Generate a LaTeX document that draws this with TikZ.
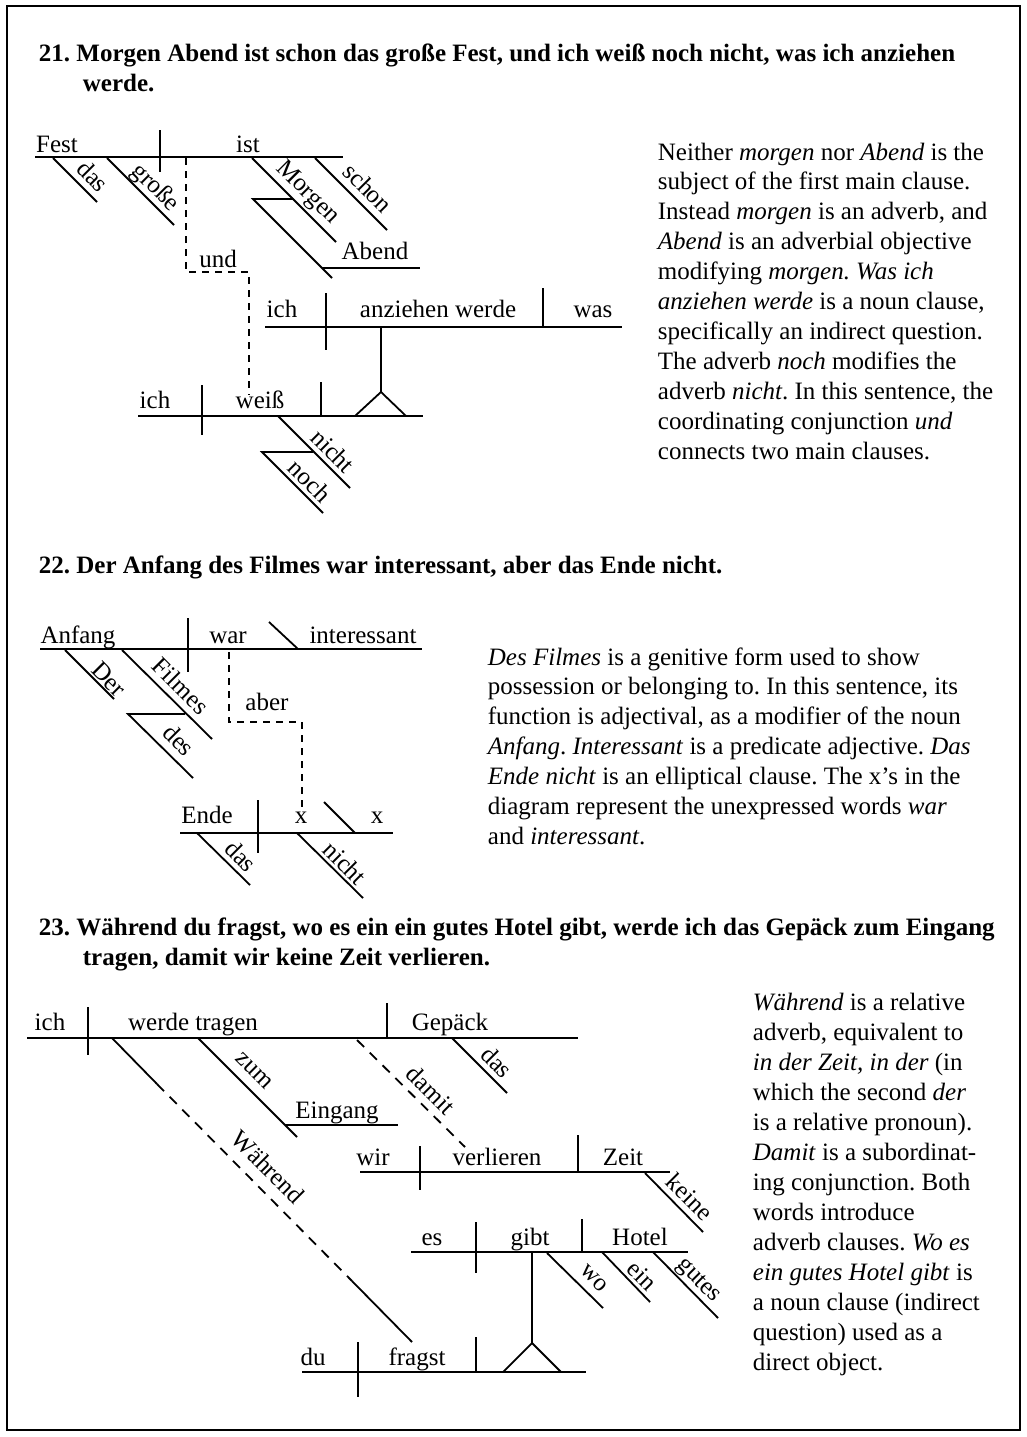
\documentclass[tikz,border=0pt]{standalone}
\usepackage{fontspec}
\setmainfont{Liberation Serif}
\begin{document}
\frenchspacing
\begin{tikzpicture}[x=1pt,y=-1pt,line width=1.8pt,
  every node/.style={inner sep=0pt,font=\fontsize{25}{30}\selectfont\frenchspacing},
  lab/.style={anchor=base},
  sl/.style={xshift=1pt,yshift=1pt,rotate=-45,anchor=center},
  dsh/.style={dash pattern=on 7pt off 6pt},
  dshb/.style={dash pattern=on 10pt off 8pt},
  head/.style={anchor=base west,font=\fontsize{25}{30}\selectfont\bfseries\frenchspacing},
  body/.style={anchor=base west}]
\useasboundingbox (0,0) rectangle (1027,1437);
\draw[line width=2pt] (7,6) rectangle (1020,1430);
% headings
\node[head] (h21a) at (38,62) {21. Morgen Abend ist schon das große Fest, und ich weiß noch nicht, was ich anziehen};
\node[head] (h21b) at (82,92) {werde.};
\node[head] (h22) at (38,573) {22. Der Anfang des Filmes war interessant, aber das Ende nicht.};
\node[head] (h23a) at (38,935) {23. Während du fragst, wo es ein ein gutes Hotel gibt, werde ich das Gepäck zum Eingang};
\node[head] (h23b) at (82,965) {tragen, damit wir keine Zeit verlieren.};
% ===== Diagram 21 =====
\draw (35,157) -- (343,157);
\draw (160,130) -- (160,172);
\node[lab] (fest) at (57,152) {Fest};
\node[lab] (ist) at (248,152) {ist};
\draw (53,158) -- (97,202);
\node[sl] (das1) at (92,177) {das};
\draw (107,158) -- (174,225);
\node[sl] (grosse) at (154,189) {große};
\draw (252,158) -- (336,242);
\node[sl] (morgen) at (306,194) {Morgen};
\draw (293,199) -- (253,199) -- (332,278);
\draw (322,268) -- (420,268);
\node[lab] (abend) at (375,259) {Abend};
\draw (315,158) -- (387,230);
\node[sl] (schon) at (367,189) {schon};
\draw[dsh] (186,158) -- (186,272) -- (249,272) -- (249,395);
\node[lab] (und) at (218,267) {und};
\draw (265,327) -- (622,327);
\draw (326,293) -- (326,350);
\draw (543,288) -- (543,327);
\node[lab] (ich1) at (282,317) {ich};
\node[lab] (anz) at (438,317) {anziehen werde};
\node[lab] (was) at (593,317) {was};
\draw (381,327) -- (381,392);
\draw (355,416) -- (381,392) -- (406,416);
\draw (138,416) -- (423,416);
\draw (202,385) -- (202,435);
\draw (321,382) -- (321,416);
\node[lab] (ich2) at (155,408) {ich};
\node[lab] (weiss) at (260,408) {weiß};
\draw (278,416) -- (350,488);
\node[sl] (nicht1) at (332,452) {nicht};
\draw (313,452) -- (262,452) -- (323,513);
\node[sl] (noch) at (309,482) {noch};
% ===== Diagram 22 =====
\draw (40,649) -- (422,649);
\draw (188,618) -- (188,672);
\draw (269,622) -- (298,649);
\node[lab] (anfang) at (78,643) {Anfang};
\node[lab] (war) at (228,643) {war};
\node[lab] (inter) at (363,643) {interessant};
\draw (65,650) -- (114,699);
\node[sl] (der) at (108,680) {Der};
\draw (122,650) -- (212,739);
\node[sl] (filmes) at (180,687) {Filmes};
\draw (185,714) -- (128,714) -- (193,778);
\node[sl] (des) at (178,741) {des};
\draw[dsh] (229,652) -- (229,722) -- (302,722) -- (302,807);
\node[lab] (aber) at (267,710) {aber};
\draw (180,833) -- (393,833);
\draw (258,800) -- (258,853);
\draw (324,802) -- (355,833);
\node[lab] (ende) at (207,823) {Ende};
\node[lab] (x1) at (301,823) {x};
\node[lab] (x2) at (377,823) {x};
\draw (197,833) -- (250,885);
\node[sl] (das2) at (240,857) {das};
\draw (297,833) -- (363,898);
\node[sl] (nicht2) at (344,864) {nicht};
% ===== Diagram 23 =====
\draw (27,1038) -- (578,1038);
\draw (88,1007) -- (88,1055);
\draw (387,1003) -- (387,1038);
\node[lab] (ich3) at (50,1030) {ich};
\node[lab] (werde) at (193,1030) {werde tragen};
\node[lab] (gepaeck) at (450,1030) {Gepäck};
\draw (452,1038) -- (507,1093);
\node[sl] (das3) at (496,1063) {das};
\draw (198,1038) -- (297,1137);
\node[sl] (zum) at (253,1072) {zum};
\draw (285,1125) -- (398,1125);
\node[lab] (eingang) at (337,1118) {Eingang};
\draw (112,1038) -- (157,1084);
\draw[dshb] (157,1084) -- (352,1281);
\draw (352,1281) -- (412,1342);
\node[sl] (waehrend) at (267,1168) {Während};
\draw[dshb] (357,1040) -- (465,1147);
\node[sl] (damit) at (430,1091) {damit};
\draw (360,1172) -- (670,1172);
\draw (420,1146) -- (420,1190);
\draw (578,1135) -- (578,1172);
\node[lab] (wir) at (373,1165) {wir};
\node[lab] (verlieren) at (497,1165) {verlieren};
\node[lab] (zeit) at (623,1165) {Zeit};
\draw (645,1173) -- (703,1232);
\node[sl] (keine) at (689,1198) {keine};
\draw (411,1252) -- (688,1252);
\draw (476,1222) -- (476,1273);
\draw (582,1219) -- (582,1252);
\node[lab] (es) at (432,1245) {es};
\node[lab] (gibt) at (530,1245) {gibt};
\node[lab] (hotel) at (640,1245) {Hotel};
\draw (547,1253) -- (603,1308);
\node[sl] (wo) at (593,1279) {wo};
\draw (602,1252) -- (650,1302);
\node[sl] (ein) at (641,1277) {ein};
\draw (653,1252) -- (718,1318);
\node[sl] (gutes) at (697,1282) {gutes};
\draw (532,1252) -- (532,1343);
\draw (503,1372) -- (532,1343) -- (561,1372);
\draw (302,1372) -- (586,1372);
\draw (358,1342) -- (358,1397);
\draw (476,1337) -- (476,1372);
\node[lab] (du) at (313,1365) {du};
\node[lab] (fragst) at (417,1365) {fragst};
% ===== explanations =====
\foreach \t [count=\i] in {
 {Neither \textit{morgen} nor \textit{Abend} is the},
 {subject of the first main clause.},
 {Instead \textit{morgen} is an adverb, and},
 {\textit{Abend} is an adverbial objective},
 {modifying \textit{morgen. Was ich}},
 {\textit{anziehen werde} is a noun clause,},
 {specifically an indirect question.},
 {The adverb \textit{noch} modifies the},
 {adverb \textit{nicht}. In this sentence, the},
 {coordinating conjunction \textit{und}},
 {connects two main clauses.}}
 \node[body] (ta\i) at (657,{160+29.9*(\i-1)}) {\t};
\foreach \t [count=\i] in {
 {\textit{Des Filmes} is a genitive form used to show},
 {possession or belonging to. In this sentence, its},
 {function is adjectival, as a modifier of the noun},
 {\textit{Anfang}. \textit{Interessant} is a predicate adjective. \textit{Das}},
 {\textit{Ende nicht} is an elliptical clause. The x’s in the},
 {diagram represent the unexpressed words \textit{war}},
 {and \textit{interessant}.}}
 \node[body] (tb\i) at (487,{665+29.9*(\i-1)}) {\t};
\foreach \t [count=\i] in {
 {\textit{Während} is a relative},
 {adverb, equivalent to},
 {\textit{in der Zeit, in der} (in},
 {which the second \textit{der}},
 {is a relative pronoun).},
 {\textit{Damit} is a subordinat-},
 {ing conjunction. Both},
 {words introduce},
 {adverb clauses. \textit{Wo es}},
 {\textit{ein gutes Hotel gibt} is},
 {a noun clause (indirect},
 {question) used as a},
 {direct object.}}
 \node[body] (tc\i) at (752,{1010+30*(\i-1)}) {\t};
\end{tikzpicture}
\end{document}
